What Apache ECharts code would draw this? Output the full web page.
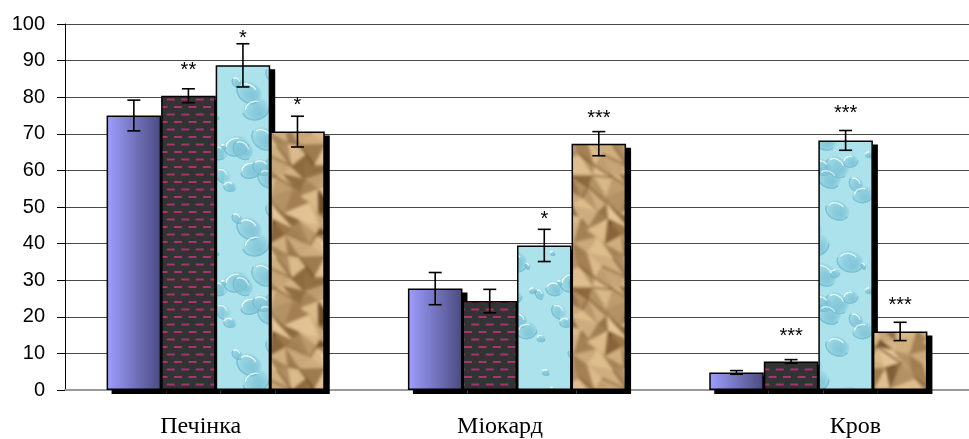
<!DOCTYPE html>
<html>
<head>
<meta charset="utf-8">
<script src="https://cdn.jsdelivr.net/npm/echarts@6/dist/echarts.min.js"></script>
<style>
  html, body { margin: 0; padding: 0; background: #fff; }
  #chart { width: 969px; height: 439px; }
</style>
</head>
<body>
<div id="chart"></div>
<script>
// ---- data ----
const categories = ['Печінка', 'Міокард', 'Кров'];

const valuesA = [75.0, 27.7, 4.8];
const errorsA = [4.2, 4.4, 0.5];
const marksA  = ['', '', ''];
const markLevelA = [null, null, null];

const valuesB = [80.4, 24.3, 7.8];
const errorsB = [1.9, 3.2, 0.5];
const marksB  = ['**', '', '***'];
const markLevelB = [88.3, null, 15.7];

const valuesC = [88.7, 39.5, 68.2];
const errorsC = [5.9, 4.4, 2.7];
const marksC  = ['*', '*', '***'];
const markLevelC = [97.0, 47.7, 76.6];

const valuesD = [70.6, 67.3, 16.0];
const errorsD = [4.2, 3.3, 2.5];
const marksD  = ['*', '***', '***'];
const markLevelD = [78.8, 75.2, 24.2];

const yMin = 0, yMax = 100, yStep = 10;

// ---- layout / style constants ----
const BAR_RATIO = 0.181;            // bar width as share of category band
const SHADOW_DX = 5, SHADOW_DY = 4; // drop shadow offset behind each bar (px)
const labelShift = [-15, -17, 37];  // horizontal nudge of category captions (px)
const SANS = '"Liberation Sans", Arial, sans-serif';
const SERIF = '"Liberation Serif", "Times New Roman", serif';

// ---- fill textures ----
function dashTile() {
  const w = 29, h = 15;
  const c = document.createElement('canvas'); c.width = w; c.height = h;
  const g = c.getContext('2d');
  g.fillStyle = '#333333'; g.fillRect(0, 0, w, h);
  g.fillStyle = '#a8336e';
  const dash = (x, y) => { g.fillRect(x, y, 8, 2); g.fillRect(x - w, y, 8, 2); };
  dash(0, 1); dash(14.5, 1);
  dash(7.25, 8.5); dash(21.75, 8.5);
  return c;
}

// draws a tile 3x3 times on a larger canvas, blurs it, and returns the seamless centre
function softenTile(draw, w, h, blur) {
  const big = document.createElement('canvas'); big.width = w * 3; big.height = h * 3;
  const bg = big.getContext('2d');
  for (let a = 0; a < 3; a++) for (let b = 0; b < 3; b++) {
    bg.save(); bg.translate(a * w, b * h); draw(bg); bg.restore();
  }
  const out = document.createElement('canvas'); out.width = w; out.height = h;
  const og = out.getContext('2d');
  og.filter = 'blur(' + blur + 'px)';
  og.drawImage(big, -w, -h);
  return out;
}

function waterTile() {
  const w = 112, h = 136;
  const draw = (g) => {
    g.fillStyle = '#abe2ec'; g.fillRect(0, 0, w, h);
    for (let i = 0; i < 26; i++) {
      const cx0 = ((i * 41.7 + 13 * Math.sin(i * 2.1)) % w + w) % w;
      const cy0 = ((i * 29.3 + 11 * Math.cos(i * 1.4)) % h + h) % h;
      const r = 2 + 10 * Math.pow(Math.abs(Math.sin(i * 1.93)), 1.6);
      const rot = 0.3 + 0.6 * Math.sin(i * 0.77);
      for (let dx = -w; dx <= w; dx += w) {
        for (let dy = -h; dy <= h; dy += h) {
          const cx = cx0 + dx, cy = cy0 + dy;
          const grd = g.createRadialGradient(cx + r * 0.35, cy + r * 0.35, 0.5, cx, cy, r * 1.2);
          grd.addColorStop(0, 'rgba(125,195,214,0.35)');
          grd.addColorStop(1, 'rgba(125,195,214,0)');
          g.fillStyle = grd;
          g.beginPath(); g.ellipse(cx, cy, r * 1.2, r * 0.9, rot, 0, Math.PI * 2); g.fill();
          g.strokeStyle = 'rgba(110,185,205,0.28)'; g.lineWidth = 1.1;
          g.beginPath(); g.ellipse(cx, cy, r * 1.1, r * 0.85, rot, Math.PI * 0.05, Math.PI * 1.0); g.stroke();
          g.strokeStyle = 'rgba(240,252,254,0.55)'; g.lineWidth = 1.1;
          g.beginPath(); g.ellipse(cx - 1, cy - 1, r * 0.8, r * 0.6, rot, Math.PI * 1.05, Math.PI * 1.7); g.stroke();
        }
      }
    }
  };
  return softenTile(draw, w, h, 0.7);
}

function paperTile() {
  const n = 7, cell = 16, w = n * cell, h = n * cell;
  const jx = (i, j) => 6 * Math.sin(((i % n + n) % n) * 2.1 + ((j % n + n) % n) * 3.7);
  const jy = (i, j) => 6 * Math.cos(((i % n + n) % n) * 3.3 + ((j % n + n) % n) * 1.9);
  const P = (i, j) => [i * cell + jx(i, j), j * cell + jy(i, j)];
  const shade = (k) => {
    const t = 0.5 + 0.5 * Math.sin(k * 12.9898 + 78.233 * Math.sin(k * 0.7));
    const a = [112, 76, 38], b = [230, 200, 152];
    const tt = Math.pow(t, 0.6);
    return 'rgb(' + a.map((v, q) => Math.round(v + (b[q] - v) * tt)).join(',') + ')';
  };
  const draw = (g) => {
    g.fillStyle = '#c49c6a'; g.fillRect(0, 0, w, h);
    for (let i = -1; i <= n; i++) {
      for (let j = -1; j <= n; j++) {
        const p00 = P(i, j), p10 = P(i + 1, j), p01 = P(i, j + 1), p11 = P(i + 1, j + 1);
        const k = ((i + n) % n) * n + ((j + n) % n);
        g.fillStyle = shade(k * 2 + 1);
        g.beginPath(); g.moveTo(...p00); g.lineTo(...p10); g.lineTo(...p11); g.closePath(); g.fill();
        g.fillStyle = shade(k * 2 + 2);
        g.beginPath(); g.moveTo(...p00); g.lineTo(...p11); g.lineTo(...p01); g.closePath(); g.fill();
      }
    }
    // dark creases along some lattice edges
    g.strokeStyle = 'rgba(80,48,18,0.6)'; g.lineWidth = 1.8;
    for (let i = -1; i <= n; i++) {
      for (let j = -1; j <= n; j++) {
        const k = ((i + n) % n) * n + ((j + n) % n);
        if (Math.sin(k * 5.31) > 0.3) {
          const p = P(i, j), q = P(i + 1, j + (k % 2 ? 1 : 0));
          g.beginPath(); g.moveTo(...p); g.lineTo(...q); g.stroke();
        }
      }
    }
    g.fillStyle = 'rgba(198,158,108,0.25)'; g.fillRect(0, 0, w, h);
  };
  return softenTile(draw, w, h, 1.5);
}

const fills = [
  { type: 'linear', x: 0, y: 0, x2: 1, y2: 0,
    colorStops: [{ offset: 0, color: '#9e9eff' }, { offset: 1, color: '#4a4a80' }] },
  { image: dashTile(), repeat: 'repeat' },
  { image: waterTile(), repeat: 'repeat' },
  { image: paperTile(), repeat: 'repeat' }
];

const groups = [
  { name: 'A', values: valuesA, errors: errorsA, marks: marksA, levels: markLevelA },
  { name: 'B', values: valuesB, errors: errorsB, marks: marksB, levels: markLevelB },
  { name: 'C', values: valuesC, errors: errorsC, marks: marksC, levels: markLevelC },
  { name: 'D', values: valuesD, errors: errorsD, marks: marksD, levels: markLevelD }
];

// left x and width of bar k in category ci
function barBox(api, ci, k) {
  const band = api.size([1, 0])[0];
  const bw = band * BAR_RATIO;
  const center = api.coord([ci, 0])[0];
  return { x: center + (k - 2) * bw, w: bw };
}

// solid black drop shadows, drawn beneath every bar
const shadowSeries = groups.map((grp, k) => ({
  name: grp.name + '-shadow',
  type: 'custom',
  z: 1,
  silent: true,
  data: grp.values.map((v, i) => [i, v]),
  encode: { x: 0, y: 1 },
  renderItem: function (params, api) {
    const ci = api.value(0), v = api.value(1);
    const b = barBox(api, ci, k);
    const yTop = api.coord([ci, v])[1];
    const yBase = api.coord([ci, 0])[1];
    return {
      type: 'rect',
      shape: { x: b.x + SHADOW_DX, y: yTop + SHADOW_DY, width: b.w, height: yBase - yTop },
      style: { fill: '#000' }
    };
  }
}));

const barSeries = groups.map((grp, k) => ({
  name: grp.name,
  type: 'bar',
  data: grp.values,
  barWidth: (BAR_RATIO * 100) + '%',
  barGap: '0%',
  z: 2,
  itemStyle: { color: fills[k], borderColor: '#000', borderWidth: 1.5 },
  emphasis: { disabled: true }
}));

// whiskers and significance marks over each bar
const errorSeries = groups.map((grp, k) => ({
  name: grp.name + '-err',
  type: 'custom',
  z: 5,
  silent: true,
  data: grp.values.map((v, i) => [i, v, grp.errors[i]]),
  encode: { x: 0, y: 1 },
  renderItem: function (params, api) {
    const ci = api.value(0), v = api.value(1), e = api.value(2);
    const b = barBox(api, ci, k);
    const cx = b.x + b.w / 2;
    const yTop = api.coord([ci, v + e])[1];
    const yBot = api.coord([ci, v - e])[1];
    const cap = 6.5;
    const ls = { stroke: '#000', lineWidth: 1.6 };
    const children = [
      { type: 'line', shape: { x1: cx, y1: yTop, x2: cx, y2: yBot }, style: ls },
      { type: 'line', shape: { x1: cx - cap, y1: yTop, x2: cx + cap, y2: yTop }, style: ls },
      { type: 'line', shape: { x1: cx - cap, y1: yBot, x2: cx + cap, y2: yBot }, style: ls }
    ];
    const mark = grp.marks[params.dataIndex];
    if (mark) {
      const ym = api.coord([ci, grp.levels[params.dataIndex]])[1];
      children.push({
        type: 'text',
        style: {
          text: mark, x: cx, y: ym + 4,
          align: 'center', verticalAlign: 'middle',
          font: '20px ' + SANS, fill: '#000'
        }
      });
    }
    return { type: 'group', children: children };
  }
}));

const rich = {};
categories.forEach((c, i) => {
  const s = labelShift[i];
  rich['c' + i] = {
    fontFamily: SERIF, fontSize: 24, color: '#000',
    padding: [0, s < 0 ? -2 * s : 0, 0, s > 0 ? 2 * s : 0]
  };
});

const chart = echarts.init(document.getElementById('chart'), null, { renderer: 'canvas' });
chart.setOption({
  animation: false,
  backgroundColor: '#fff',
  grid: { left: 65, right: -12, top: 24, bottom: 48, containLabel: false },
  xAxis: {
    type: 'category',
    data: categories,
    axisLine: { show: true, lineStyle: { color: '#9a9a9a', width: 2 } },
    axisTick: { show: false },
    axisLabel: {
      margin: 25,
      formatter: (val, idx) => '{c' + idx + '|' + val + '}',
      rich: rich
    }
  },
  yAxis: {
    type: 'value',
    min: yMin, max: yMax, interval: yStep,
    axisLine: { show: true, lineStyle: { color: '#000', width: 1 } },
    axisTick: { show: true, length: 8, lineStyle: { color: '#000' } },
    axisLabel: { margin: 20, fontFamily: SANS, fontSize: 20, color: '#000' },
    splitLine: { show: true, lineStyle: { color: '#4a4a4a', width: 1 } }
  },
  series: shadowSeries.concat(barSeries, errorSeries)
});
</script>
</body>
</html>
